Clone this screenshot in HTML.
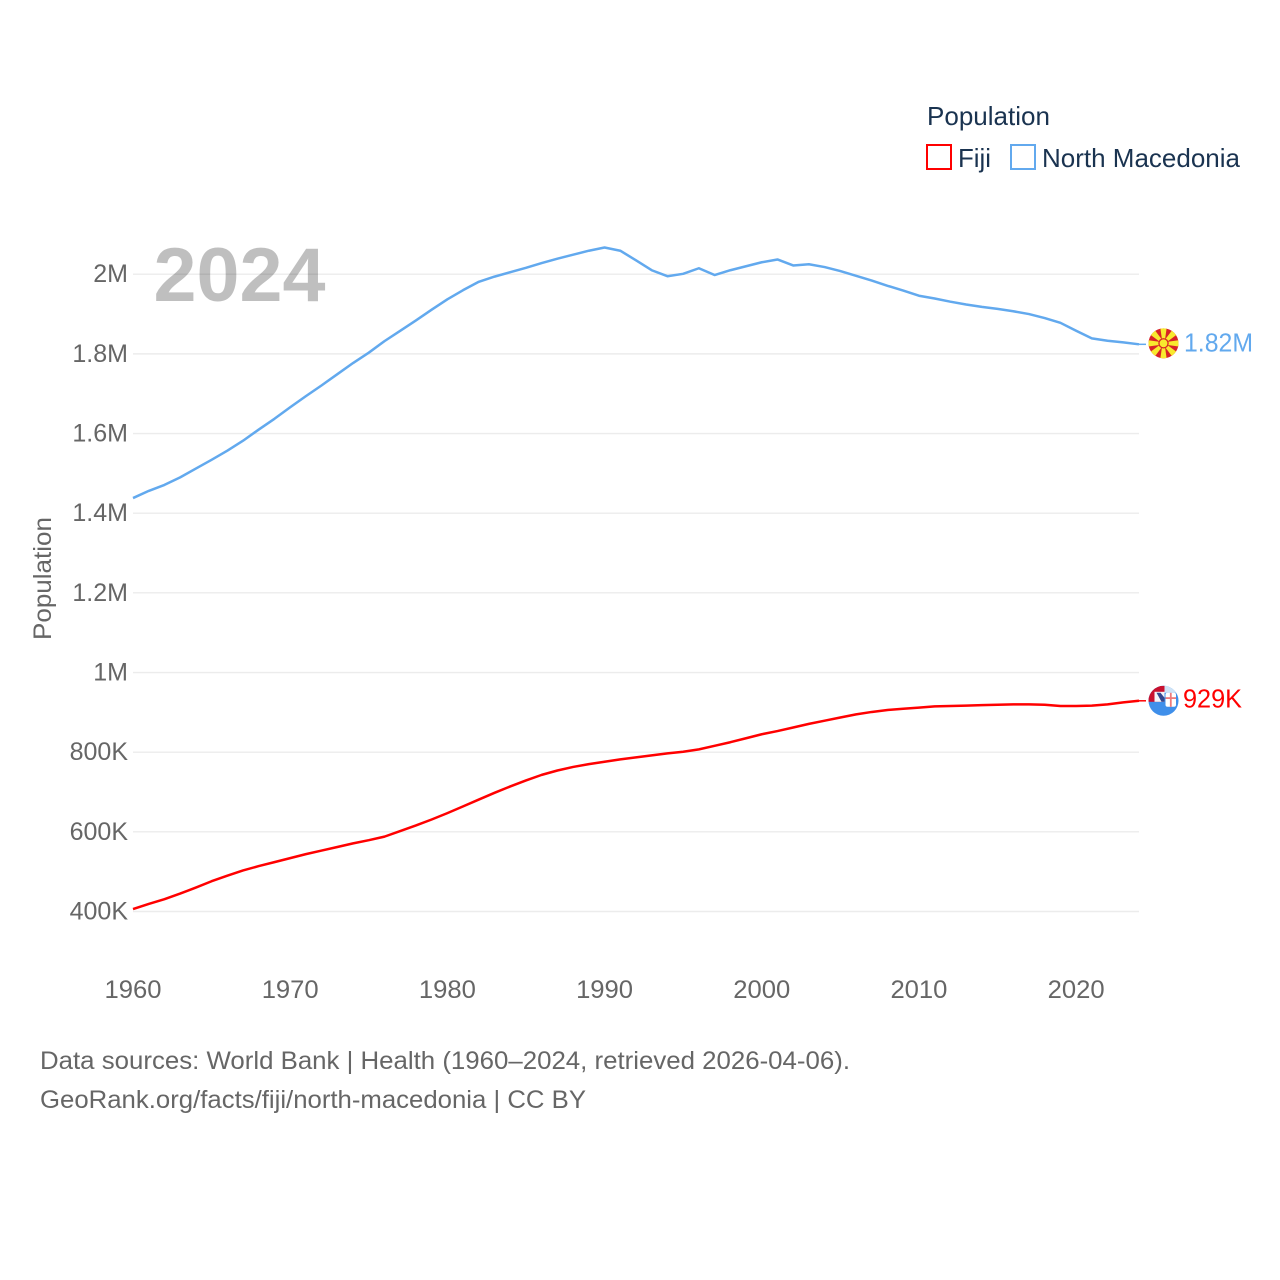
<!DOCTYPE html>
<html lang="en">
<head>
<meta charset="utf-8">
<title>Population: Fiji and North Macedonia</title>
<style>
html,body{margin:0;padding:0;background:#fff;}
svg{display:block;font-family:"Liberation Sans",sans-serif;}
</style>
</head>
<body>
<svg id="chart" xmlns="http://www.w3.org/2000/svg" width="1280" height="1280" viewBox="0 0 1280 1280">
  <defs>
    <clipPath id="mk-clip"><circle cx="0" cy="0" r="15"/></clipPath>
    <clipPath id="fj-clip"><circle cx="0" cy="0" r="15"/></clipPath>
  </defs>
  <rect width="1280" height="1280" fill="#fff"/>
  <g id="grid"></g>
  <g id="yticks"></g>
  <g id="xticks"></g>
  <text x="153.5" y="301" font-size="76" font-weight="700" fill="rgba(0,0,0,0.25)" textLength="172" lengthAdjust="spacingAndGlyphs">2024</text>
  <text transform="translate(51,640) rotate(-90)" font-size="25" fill="#666" textLength="123" lengthAdjust="spacingAndGlyphs">Population</text>
  <g id="series"></g>
  <g id="ends"></g>

  <g>
    <text x="927" y="125" font-size="26" fill="#1a3350" textLength="123" lengthAdjust="spacingAndGlyphs">Population</text>
    <rect x="927" y="145" width="24" height="24" fill="none" stroke="#ff0000" stroke-width="2"/>
    <text x="958" y="167" font-size="26" fill="#1a3350" textLength="33" lengthAdjust="spacingAndGlyphs">Fiji</text>
    <rect x="1011" y="145" width="24" height="24" fill="none" stroke="#62a9ee" stroke-width="2"/>
    <text x="1042" y="167" font-size="26" fill="#1a3350" textLength="198" lengthAdjust="spacingAndGlyphs">North Macedonia</text>
  </g>

  <g>
    <text x="40" y="1069" font-size="25" fill="#666" textLength="810" lengthAdjust="spacingAndGlyphs">Data sources: World Bank | Health (1960–2024, retrieved 2026-04-06).</text>
    <text x="40" y="1108" font-size="25" fill="#666" textLength="546" lengthAdjust="spacingAndGlyphs">GeoRank.org/facts/fiji/north-macedonia | CC BY</text>
  </g>
</svg>

<script>
const startYear = 1960;
const xTickYears = [1960, 1970, 1980, 1990, 2000, 2010, 2020];
const yTickValues = [400, 600, 800, 1000, 1200, 1400, 1600, 1800, 2000];
const yTickLabels = ['400K', '600K', '800K', '1M', '1.2M', '1.4M', '1.6M', '1.8M', '2M'];
const fijiValues = [406, 419, 431, 445, 460, 476, 490, 503, 514, 524, 534, 544, 553, 562, 571, 579, 588, 602, 616, 631, 647, 664, 681, 698, 714, 729, 743, 754, 763, 770, 776, 782, 787, 792, 797, 801, 807, 816, 825, 835, 845, 853, 862, 871, 879, 887, 895, 901, 906, 909, 912, 915, 916, 917, 918, 919, 920, 920, 919, 916, 916, 917, 920, 925, 929];
const macedoniaValues = [1438, 1456, 1471, 1490, 1512, 1534, 1557, 1582, 1610, 1637, 1666, 1694, 1721, 1749, 1777, 1803, 1832, 1858, 1884, 1911, 1937, 1960, 1981, 1994, 2005, 2016, 2028, 2039, 2049, 2059, 2067, 2059, 2035, 2010, 1995, 2001, 2015, 1998, 2010, 2020, 2030, 2037, 2022, 2025, 2018, 2008, 1996, 1984, 1971, 1959, 1946, 1939, 1931, 1924, 1918, 1913, 1907, 1900, 1890, 1878, 1858, 1839, 1833, 1829, 1824];

const NS = 'http://www.w3.org/2000/svg';
const FIJI_COLOR = '#ff0000';
const MK_COLOR = '#62a9ee';
const PLOT_LEFT = 133;
const PLOT_RIGHT = 1139;
const PX_PER_YEAR = (PLOT_RIGHT - PLOT_LEFT) / 64;
const Y_BASE = 911.5;
const PX_PER_THOUSAND = 0.3983;

function xScale(year) { return PLOT_LEFT + (year - startYear) * PX_PER_YEAR; }
function yScale(value) { return Y_BASE - (value - 400) * PX_PER_THOUSAND; }
function formatValue(v) { return v >= 1000 ? (v / 1000).toFixed(2) + 'M' : Math.round(v) + 'K'; }
function make(tag, attrs, parent) {
  const el = document.createElementNS(NS, tag);
  for (const k in attrs) el.setAttribute(k, attrs[k]);
  if (parent) parent.appendChild(el);
  return el;
}

const gridGroup = document.getElementById('grid');
const yTickGroup = document.getElementById('yticks');
const xTickGroup = document.getElementById('xticks');
const seriesGroup = document.getElementById('series');
const endsGroup = document.getElementById('ends');

yTickValues.forEach(function (v, i) {
  const line = make('line', { x1: PLOT_LEFT, x2: PLOT_RIGHT, y1: yScale(v), y2: yScale(v), stroke: '#ececec', 'stroke-width': 1.4 }, gridGroup);
  
  
  const t = make('text', { x: 128, y: yScale(v) + 8, 'text-anchor': 'end', 'font-size': 25, fill: '#666' }, yTickGroup);
  
  
  t.textContent = yTickLabels[i];
});

xTickYears.forEach(function (year) {
  const t = make('text', { x: xScale(year), y: 998, 'text-anchor': 'middle', 'font-size': 25, fill: '#666', textLength: 57, lengthAdjust: 'spacingAndGlyphs' }, xTickGroup);
  
  
  t.textContent = year;
});

function linePath(values) {
  return values.map(function (v, i) {
    return (i ? 'L' : 'M') + xScale(startYear + i).toFixed(2) + ' ' + yScale(v).toFixed(2);
  }).join('');
}

const macedoniaLine = make('path', { d: linePath(macedoniaValues), fill: 'none', stroke: MK_COLOR, 'stroke-width': 2.5, 'stroke-linejoin': 'round' }, seriesGroup);


const fijiLine = make('path', { d: linePath(fijiValues), fill: 'none', stroke: FIJI_COLOR, 'stroke-width': 2.5, 'stroke-linejoin': 'round' }, seriesGroup);



const mkLast = macedoniaValues[macedoniaValues.length - 1];
const fjLast = fijiValues[fijiValues.length - 1];
const mkY = yScale(mkLast);
const fjY = yScale(fjLast);

const mkLead = make('line', { x1: PLOT_RIGHT, x2: 1146, y1: mkY, y2: mkY, stroke: MK_COLOR, 'stroke-width': 1.5 }, endsGroup);


const fjLead = make('line', { x1: PLOT_RIGHT, x2: 1146, y1: fjY, y2: fjY, stroke: FIJI_COLOR, 'stroke-width': 1.5 }, endsGroup);



const mkFlag = make('g', { transform: 'translate(1163.5,' + (mkY - 1).toFixed(2) + ')', 'clip-path': 'url(#mk-clip)' }, endsGroup);


make('rect', { x: -16, y: -16, width: 32, height: 32, fill: '#d82126' }, mkFlag);
[0, 45, 90, 135, 180, 225, 270, 315].forEach(function (a) {
  make('polygon', { points: '-1,0 1,0 3.4,-17 -3.4,-17', fill: '#f8e92e', transform: 'rotate(' + a + ')' }, mkFlag);
});
make('circle', { r: 5.2, fill: '#d82126' }, mkFlag);
make('circle', { r: 3.9, fill: '#f8e92e' }, mkFlag);

const fjFlag = make('g', { transform: 'translate(1163.5,' + fjY.toFixed(2) + ')', 'clip-path': 'url(#fj-clip)' }, endsGroup);


make('rect', { x: -16, y: -16, width: 32, height: 32, fill: '#3f8fea' }, fjFlag);
make('rect', { x: 1, y: -16, width: 15, height: 8, fill: '#cfe3f6' }, fjFlag);
make('rect', { x: -15, y: -15, width: 16, height: 16, fill: '#c8102e' }, fjFlag);
make('rect', { x: -9, y: -9, width: 10, height: 10, fill: '#f4f4f8' }, fjFlag);
make('polygon', { points: '-7,-8 -3,-8 1,-3 1,1 -2,1', fill: '#33478f' }, fjFlag);
make('rect', { x: 2, y: -8, width: 10.5, height: 14, rx: 2, fill: '#ffffff' }, fjFlag);
make('rect', { x: 6.4, y: -8, width: 1.8, height: 14, fill: '#ee7a7a' }, fjFlag);
make('rect', { x: 2, y: -3.6, width: 10.5, height: 1.8, fill: '#ee7a7a' }, fjFlag);

const mkLabel = make('text', { x: 1184, y: mkY + 7, 'font-size': 26, fill: MK_COLOR, textLength: 69, lengthAdjust: 'spacingAndGlyphs' }, endsGroup);


mkLabel.textContent = formatValue(mkLast);
const fjLabel = make('text', { x: 1183, y: fjY + 6.5, 'font-size': 26, fill: FIJI_COLOR, textLength: 59, lengthAdjust: 'spacingAndGlyphs' }, endsGroup);


fjLabel.textContent = formatValue(fjLast);
</script>
</body>
</html>
